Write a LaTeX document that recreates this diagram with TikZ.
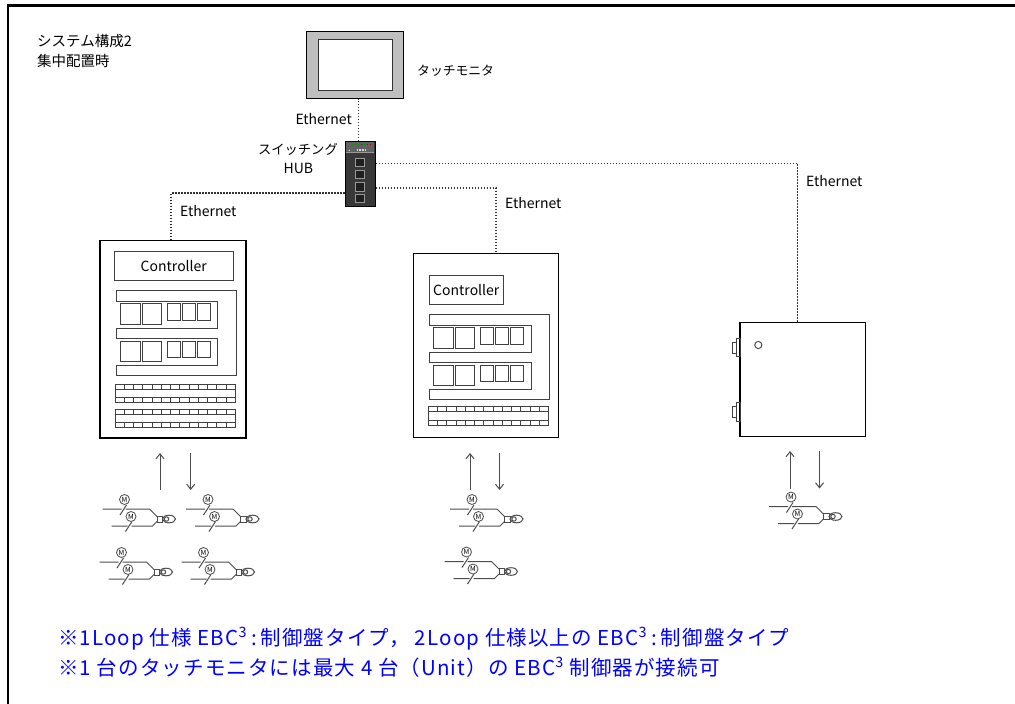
\documentclass[tikz,border=0pt]{standalone}
\usepackage{fontspec}
\setmainfont{Noto Sans CJK JP}
\newfontfamily\notefont[LetterSpace=5.5]{Noto Sans CJK JP}
\usetikzlibrary{arrows.meta,calc}

\newcommand\ebccolon{\hspace{4pt}:\hspace{4pt}}

\tikzset{
  frame/.style={line width=2.2pt},
  cabinet/.style={draw, line width=1.3pt, fill=white, inner sep=0pt},
  part/.style={draw=black!75, line width=0.9pt},
  partbox/.style={draw=black!75, line width=0.9pt, inner sep=0pt, font=\fontsize{14}{16}\selectfont},
  eth/.style={draw=black!80, line width=1.3pt, dash pattern=on 1.4pt off 1.6pt},
  lbl/.style={font=\fontsize{12.8}{14}\selectfont, inner sep=0pt},
  latlbl/.style={font=\fontsize{14}{16}\selectfont, inner sep=0pt},
  title/.style={font=\fontsize{14.5}{16}\selectfont, inner sep=0pt, anchor=base west},
  sig/.style={draw=black!70, line width=1pt, -{Straight Barb[length=5pt,width=8pt]}},
  motor/.style={circle, draw=black!70, fill=white, line width=0.8pt, inner sep=0pt,
    minimum size=10pt, font=\fontsize{7}{7}\selectfont},
  pipe/.style={draw=black!70, line width=1pt},
  note/.style={font=\notefont\fontsize{20.5}{23}\selectfont, text=blue, inner sep=0pt, anchor=base west},
  % rack plate with two module rails
  rack/.pic={
    \draw[part] (0,0) -- (120,0) -- (120,85.7) -- (0,85.7) -- (0,75) -- (101.7,75)
      -- (101.7,48.3) -- (0,48.3) -- (0,38.3) -- (101.7,38.3) -- (101.7,11) -- (0,11) -- cycle;
    \foreach \dy in {0,37.7} {
      \draw[part] (4.5,13.5+\dy) rectangle (24,34+\dy);
      \draw[part] (26.5,13.5+\dy) rectangle (45,34+\dy);
      \draw[part] (51,13.5+\dy) rectangle (64.5,30+\dy);
      \draw[part] (66,13.5+\dy) rectangle (79.5,30+\dy);
      \draw[part] (81,13.5+\dy) rectangle (94.5,30+\dy);
    }
  },
  % terminal block strip
  tblock/.pic={
    \draw[part] (0,0) rectangle (120,18.5);
    \draw[part] (0,5) -- (120,5) (0,13.5) -- (120,13.5);
    \foreach \i in {1,...,12} {
      \draw[part] (9.25*\i,0) -- (9.25*\i,5) (9.25*\i,13.5) -- (9.25*\i,18.5);
    }
  },
  % two motor valves feeding one nozzle (origin at nozzle centre)
  valve/.pic={
    \draw[pipe] (-66,-10) -- (-47,-10) (-43,-10) -- (-19,-10) -- (-11.5,-2.5);
    \draw[pipe] (-48.5,-4) -- (-42,-14);
    \node[motor] at (-44,-19.5) {M};
    \draw[pipe] (-57,7) -- (-41,7) (-37,7) -- (-16,7) -- (-11.5,2.5);
    \draw[pipe] (-43,12.5) -- (-36.5,2.5);
    \node[motor] at (-37.5,-2.5) {M};
    \draw[pipe, fill=white] (-11.5,-3) rectangle (-6,3);
    \draw[pipe] (0.5,0) ellipse (6.5 and 3.8);
    \draw[pipe] (-2,0) circle (2.2);
  },
}

\begin{document}
\begin{tikzpicture}[x=1pt,y=-1pt]
\useasboundingbox (0,0) rectangle (1015,704);
\draw[frame] (1015,5.5) -- (8,5.5) -- (8,704);

% heading
\node[title] (t1) at (37,46.5) {システム構成2};
\node[title] (t2) at (37,66) {集中配置時};

% touch monitor
\node[draw, line width=1.5pt, fill=black!25, minimum width=96.7pt, minimum height=66.7pt, inner sep=0pt] (mon) at (355,65) {};
\node[draw=black!80, line width=1pt, fill=white, minimum width=74.4pt, minimum height=51pt, inner sep=0pt] (scr) at (355.5,64.5) {};
\node[lbl, anchor=base west] (monlbl) at (417,75.5) {タッチモニタ};

% switching hub
\node[draw, line width=1pt, fill=black!78, minimum width=30pt, minimum height=65pt, inner sep=0pt] (hub) at (360,174.2) {};
\fill[black!62] (345.6,142.3) rectangle (374.4,152.5);
\draw[black!40, line width=0.6pt] (345.6,152.5) -- (374.4,152.5);
\foreach \x/\c in {351.5/green!60!black, 354.5/green!60!black, 357.5/green!60!black, 360.5/red!70!black, 363.5/green!60!black, 366.5/red!70!black, 369.5/red!70!black}
  \fill[\c] (\x,143.6) rectangle (\x+1.8,145.4);
\fill[black!15] (349.3,150.3) circle (0.8);
\foreach \x in {356.5,359.2,361.9,364.6}
  \fill[black!15] (\x,149.3) rectangle (\x+1.6,151.1);
\foreach \y in {158,170,182.5,194}
  \draw[draw=black!40, fill=black!88, line width=0.8pt] (355.8,\y) rectangle (364.2,\y+8.5);
\node[lbl, font=\fontsize{13.3}{15}\selectfont, anchor=base east] (hublbl1) at (338,154) {スイッチング};
\node[latlbl, anchor=base] (hublbl2) at (298.3,173.5) {HUB};

% left control cabinet
\node[cabinet, minimum width=146pt, minimum height=197.3pt] (cabL) at (173,339.35) {};
\node[partbox, minimum width=119pt, minimum height=29pt] (ctlL) at (173.8,266.2) {Controller};
\pic (rackL) at (116,290) {rack};
\pic (tbL1) at (115,384.3) {tblock};
\pic (tbL2) at (115,409) {tblock};

% middle control cabinet
\node[cabinet, minimum width=145pt, minimum height=184.4pt] (cabM) at (485.8,345.5) {};
\node[partbox, minimum width=74pt, minimum height=29.3pt] (ctlM) at (466.3,289.7) {Controller};
\pic (rackM) at (429.3,314) {rack};
\pic (tbM) at (428.3,406.7) {tblock};

% wall-mounted controller box
\node[cabinet, minimum width=125.7pt, minimum height=114pt] (boxR) at (802.85,379.7) {};
\draw[part] (758.3,345) circle (3.6);
\foreach \y in {338.3,402.7} {
  \draw[part] (736,\y) rectangle (740,\y+18.4);
  \draw[part] (732.3,\y+3.7) rectangle (736,\y+14.7);
}

% Ethernet wiring
\draw[eth] ([xshift=-1.7pt]hub.north) -- ([xshift=-1.7pt]hub.north |- mon.south);
\node[latlbl, anchor=base east] (e0) at (352,124.5) {Ethernet};
\draw[eth] ([yshift=-18.8pt]hub.west) -| ([xshift=-2pt]cabL.north);
\node[latlbl, anchor=base west] (e1) at (180,216.5) {Ethernet};
\draw[eth] ([yshift=-13.8pt]hub.east) -| ([xshift=10.2pt]cabM.north);
\node[latlbl, anchor=base west] (e2) at (505,208.5) {Ethernet};
\draw[eth] ([yshift=11pt]hub.east) -| ([xshift=-5.5pt]boxR.north);
\node[latlbl, anchor=base west] (e3) at (806,186.5) {Ethernet};

% signal arrows between cabinets and field devices
\coordinate (aL1) at (160,490);   \coordinate (aL1e) at (160,453);
\coordinate (aL2) at (190.7,453); \coordinate (aL2e) at (190.7,490);
\coordinate (aM1) at (470,490);   \coordinate (aM1e) at (470,453);
\coordinate (aM2) at (499.5,453); \coordinate (aM2e) at (499.5,490);
\coordinate (aR1) at (790,488.5); \coordinate (aR1e) at (790,451);
\coordinate (aR2) at (819.5,451); \coordinate (aR2e) at (819.5,488.5);
\draw[sig] (aL1) -- (aL1e);
\draw[sig] (aL2) -- (aL2e);
\draw[sig] (aM1) -- (aM1e);
\draw[sig] (aM2) -- (aM2e);
\draw[sig] (aR1) -- (aR1e);
\draw[sig] (aR2) -- (aR2e);

% motor valve sets
\pic (v1) at (168.5,519) {valve};
\pic (v2) at (252,519) {valve};
\pic (v3) at (165.5,572) {valve};
\pic (v4) at (247.5,572) {valve};
\pic (v5) at (516,519) {valve};
\pic (v6) at (510.5,571.5) {valve};
\pic (v7) at (835,516.5) {valve};

% notes
\node[note] (n1) at (58,645) {※1Loop 仕様 EBC\textsuperscript{3}\ebccolon 制御盤タイプ，\hspace{5pt}2Loop 仕様以上の EBC\textsuperscript{3}\ebccolon 制御盤タイプ};
\node[note] (n2) at (58,675) {※1 台のタッチモニタには最大 4 台（Unit）の EBC\textsuperscript{3} 制御器が接続可};
\end{tikzpicture}
\end{document}
